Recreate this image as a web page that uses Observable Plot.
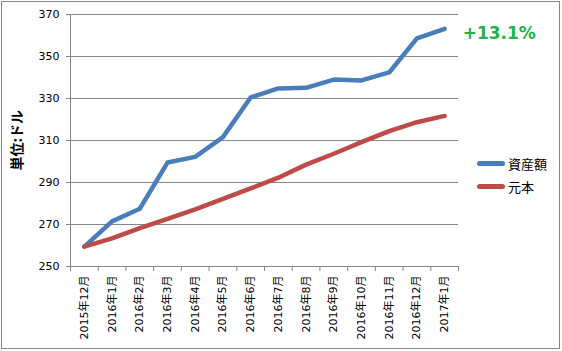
<!DOCTYPE html>
<html>
<head>
<meta charset="utf-8">
<script src="https://cdn.jsdelivr.net/npm/d3@7"></script>
<script src="https://cdn.jsdelivr.net/npm/@observablehq/plot@0.6"></script>
<style>
  html, body { margin: 0; padding: 0; background: #fff; }
  #wrap { position: relative; width: 562px; height: 351px; overflow: hidden; }
  #border { position: absolute; left: 1px; top: 1px; width: 557px; height: 346px; border: 1px solid #868686; pointer-events: none; }
  #legend { position: absolute; left: 477px; top: 152px; font-family: "Noto Sans CJK JP", sans-serif; font-size: 13px; color: #000; }
  .item { display: flex; align-items: center; height: 23px; }
  .swatch { width: 28px; height: 5px; border-radius: 2.5px; margin-right: 3px; }
</style>
</head>
<body>
<div id="wrap"><div id="border"></div></div>
<script>
const months = ["2015年12月","2016年1月","2016年2月","2016年3月","2016年4月","2016年5月","2016年6月","2016年7月","2016年8月","2016年9月","2016年10月","2016年11月","2016年12月","2017年1月"];
const assets = [259.5, 271.5, 277.5, 299.5, 302.2, 311.6, 330.5, 334.8, 335.1, 339.0, 338.6, 342.4, 358.6, 363.2];
const principal = [259.5, 263.4, 268.3, 272.7, 277.2, 282.2, 287.2, 292.3, 298.5, 303.7, 309.2, 314.5, 318.7, 321.7];
const yTicks = [250, 270, 290, 310, 330, 350, 370];
const seriesNames = ["資産額", "元本"];
const seriesColors = ["#4A7EBB", "#BE4B48"];
const growthLabel = "+13.1%";
const yLabel = "単位:ドル";

const idx = months.map((_, i) => i);
const rows = [];
idx.forEach(i => rows.push({i, v: assets[i], s: seriesNames[0]}));
idx.forEach(i => rows.push({i, v: principal[i], s: seriesNames[1]}));
const boundaries = d3.range(months.length + 1).map(k => k - 0.5);
const last = months.length - 1;

const font = "'DejaVu Sans','Noto Sans CJK JP',sans-serif";

const chart = Plot.plot({
  width: 562,
  height: 351,
  marginLeft: 70,
  marginRight: 104,
  marginTop: 14,
  marginBottom: 85,
  style: {fontFamily: font, fontSize: "11px", color: "#000", background: "transparent"},
  x: {domain: [-0.5, months.length - 0.5], axis: null},
  y: {domain: [yTicks[0], yTicks[yTicks.length - 1]], axis: null},
  color: {domain: seriesNames, range: seriesColors},
  marks: [
    Plot.gridY(yTicks, {stroke: "#868686", strokeOpacity: 1, strokeWidth: 1}),
    Plot.ruleX([boundaries[0]], {y1: yTicks[0], y2: yTicks[yTicks.length - 1], stroke: "#868686", strokeWidth: 1}),
    Plot.axisY(yTicks, {tickSize: 4, tickPadding: 7, stroke: "#868686", fill: "#000", fontSize: 11, fontFamily: font, label: null}),
    Plot.axisX(boundaries, {tickSize: 5, tickFormat: () => "", stroke: "#868686", label: null}),
    Plot.axisX(idx, {tickSize: 0, tickPadding: 9, tickRotate: -90, tickFormat: i => months[i], fill: "#000", fontSize: 11, fontFamily: font, label: null}),
    Plot.line(rows, {x: "i", y: "v", z: "s", stroke: "s", strokeWidth: 4.5, strokeLinecap: "round", strokeLinejoin: "round"}),
    Plot.text([last], {x: i => i, y: i => assets[i], text: () => growthLabel, dx: 18, dy: 5, textAnchor: "start", fill: "#22B14C", fontSize: 17, fontWeight: "bold", fontFamily: "'DejaVu Sans',sans-serif"}),
    Plot.text([yLabel], {frameAnchor: "left", rotate: -90, dx: -53, dy: 30, fontSize: 14, fontWeight: "bold", fill: "#000", fontFamily: "'Noto Sans CJK JP',sans-serif"})
  ]
});
const wrap = document.getElementById("wrap");
wrap.insertBefore(chart, wrap.firstChild);

const legend = document.createElement("div");
legend.id = "legend";
seriesNames.forEach((name, k) => {
  const it = document.createElement("div");
  it.className = "item";
  const sw = document.createElement("span");
  sw.className = "swatch";
  sw.style.background = seriesColors[k];
  const tx = document.createElement("span");
  tx.textContent = name;
  it.appendChild(sw);
  it.appendChild(tx);
  legend.appendChild(it);
});
wrap.appendChild(legend);
</script>
</body>
</html>
